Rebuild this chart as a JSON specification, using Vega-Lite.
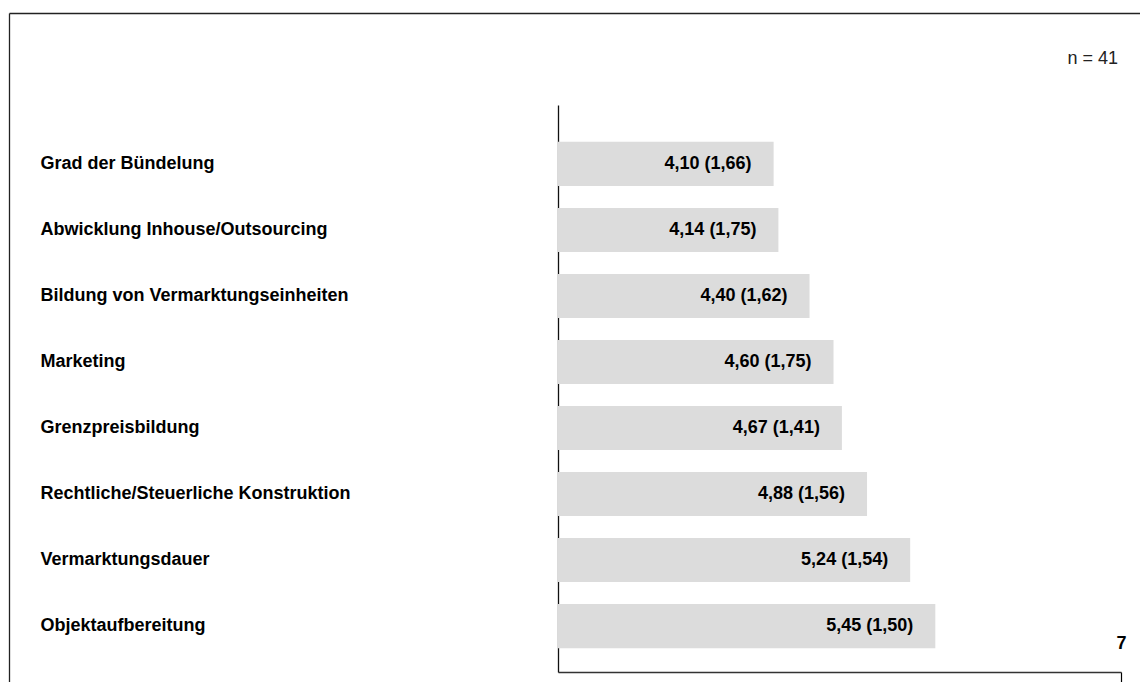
{
  "$schema": "https://vega.github.io/schema/vega-lite/v6.json",
  "width": 563,
  "height": 567,
  "padding": {"left": 558, "top": 105, "right": 19, "bottom": 10},
  "autosize": {"type": "none"},
  "background": "white",
  "config": {"view": {"stroke": null}, "font": "Liberation Sans"},
  "title": {"text": "n = 41", "anchor": "end", "frame": "group", "fontSize": 18, "fontWeight": "normal", "font": "Liberation Sans", "color": "#222222", "offset": -55, "dx": -3},
  "data": {
    "values": [
      {"item": "Grad der Bündelung", "mean": 4.10, "sd": 1.66, "label": "4,10 (1,66)"},
      {"item": "Abwicklung Inhouse/Outsourcing", "mean": 4.14, "sd": 1.75, "label": "4,14 (1,75)"},
      {"item": "Bildung von Vermarktungseinheiten", "mean": 4.40, "sd": 1.62, "label": "4,40 (1,62)"},
      {"item": "Marketing", "mean": 4.60, "sd": 1.75, "label": "4,60 (1,75)"},
      {"item": "Grenzpreisbildung", "mean": 4.67, "sd": 1.41, "label": "4,67 (1,41)"},
      {"item": "Rechtliche/Steuerliche Konstruktion", "mean": 4.88, "sd": 1.56, "label": "4,88 (1,56)"},
      {"item": "Vermarktungsdauer", "mean": 5.24, "sd": 1.54, "label": "5,24 (1,54)"},
      {"item": "Objektaufbereitung", "mean": 5.45, "sd": 1.50, "label": "5,45 (1,50)"}
    ]
  },
  "resolve": {"scale": {"x": "independent", "y": "independent"}},
  "layer": [
    {
      "mark": {"type": "bar", "color": "#dcdcdc"},
      "encoding": {
        "y": {
          "field": "item", "type": "nominal", "sort": null,
          "scale": {"type": "band", "paddingInner": 0.333, "paddingOuter": 0.46, "align": 0.607},
          "axis": {"title": null, "orient": "left", "labelAlign": "left", "labelPadding": 518, "ticks": false, "tickSize": 0, "domain": true, "domainColor": "#111111", "domainWidth": 1.3, "labelFontSize": 18, "labelFontWeight": "bold", "labelColor": "#000000", "labelFont": "Liberation Sans", "labelLimit": 520}
        },
        "x": {
          "field": "mean", "type": "quantitative",
          "scale": {"domain": [2.3, 7], "nice": false, "zero": false},
          "axis": {"title": null, "orient": "bottom", "values": [7], "format": "d", "grid": false, "domain": true, "domainColor": "#333333", "domainWidth": 1.5, "ticks": true, "tickSize": 10, "tickColor": "#000000", "tickWidth": 1.2, "labelFlush": false, "labelBaseline": "alphabetic", "labelPadding": -34, "labelFontSize": 18, "labelFontWeight": "bold", "labelColor": "#000000", "labelFont": "Liberation Sans"}
        },
        "x2": {"datum": 2.3}
      }
    },
    {
      "mark": {"type": "text", "align": "right", "baseline": "middle", "dx": -22, "fontWeight": "bold", "fontSize": 18, "font": "Liberation Sans", "color": "#000000"},
      "encoding": {
        "y": {
          "field": "item", "type": "nominal", "sort": null,
          "scale": {"type": "band", "paddingInner": 0.333, "paddingOuter": 0.46, "align": 0.607},
          "axis": null
        },
        "x": {
          "field": "mean", "type": "quantitative",
          "scale": {"domain": [2.3, 7], "nice": false, "zero": false},
          "axis": null
        },
        "text": {"field": "label"}
      }
    },
    {
      "mark": {"type": "rule", "opacity": 0},
      "encoding": {
        "x": {
          "datum": 0, "type": "quantitative",
          "scale": {"domain": [0, 1], "range": [-549, 582], "nice": false, "zero": false},
          "axis": {"title": null, "orient": "top", "offset": 92, "labels": false, "ticks": false, "grid": false, "domain": true, "domainColor": "#222222", "domainWidth": 1.3}
        },
        "y": {
          "datum": 0, "type": "quantitative",
          "scale": {"domain": [0, 1], "range": [-92, 577], "nice": false, "zero": false},
          "axis": {"title": null, "orient": "right", "offset": -1112, "labels": false, "ticks": false, "grid": false, "domain": true, "domainColor": "#222222", "domainWidth": 1.3}
        }
      }
    }
  ]
}
